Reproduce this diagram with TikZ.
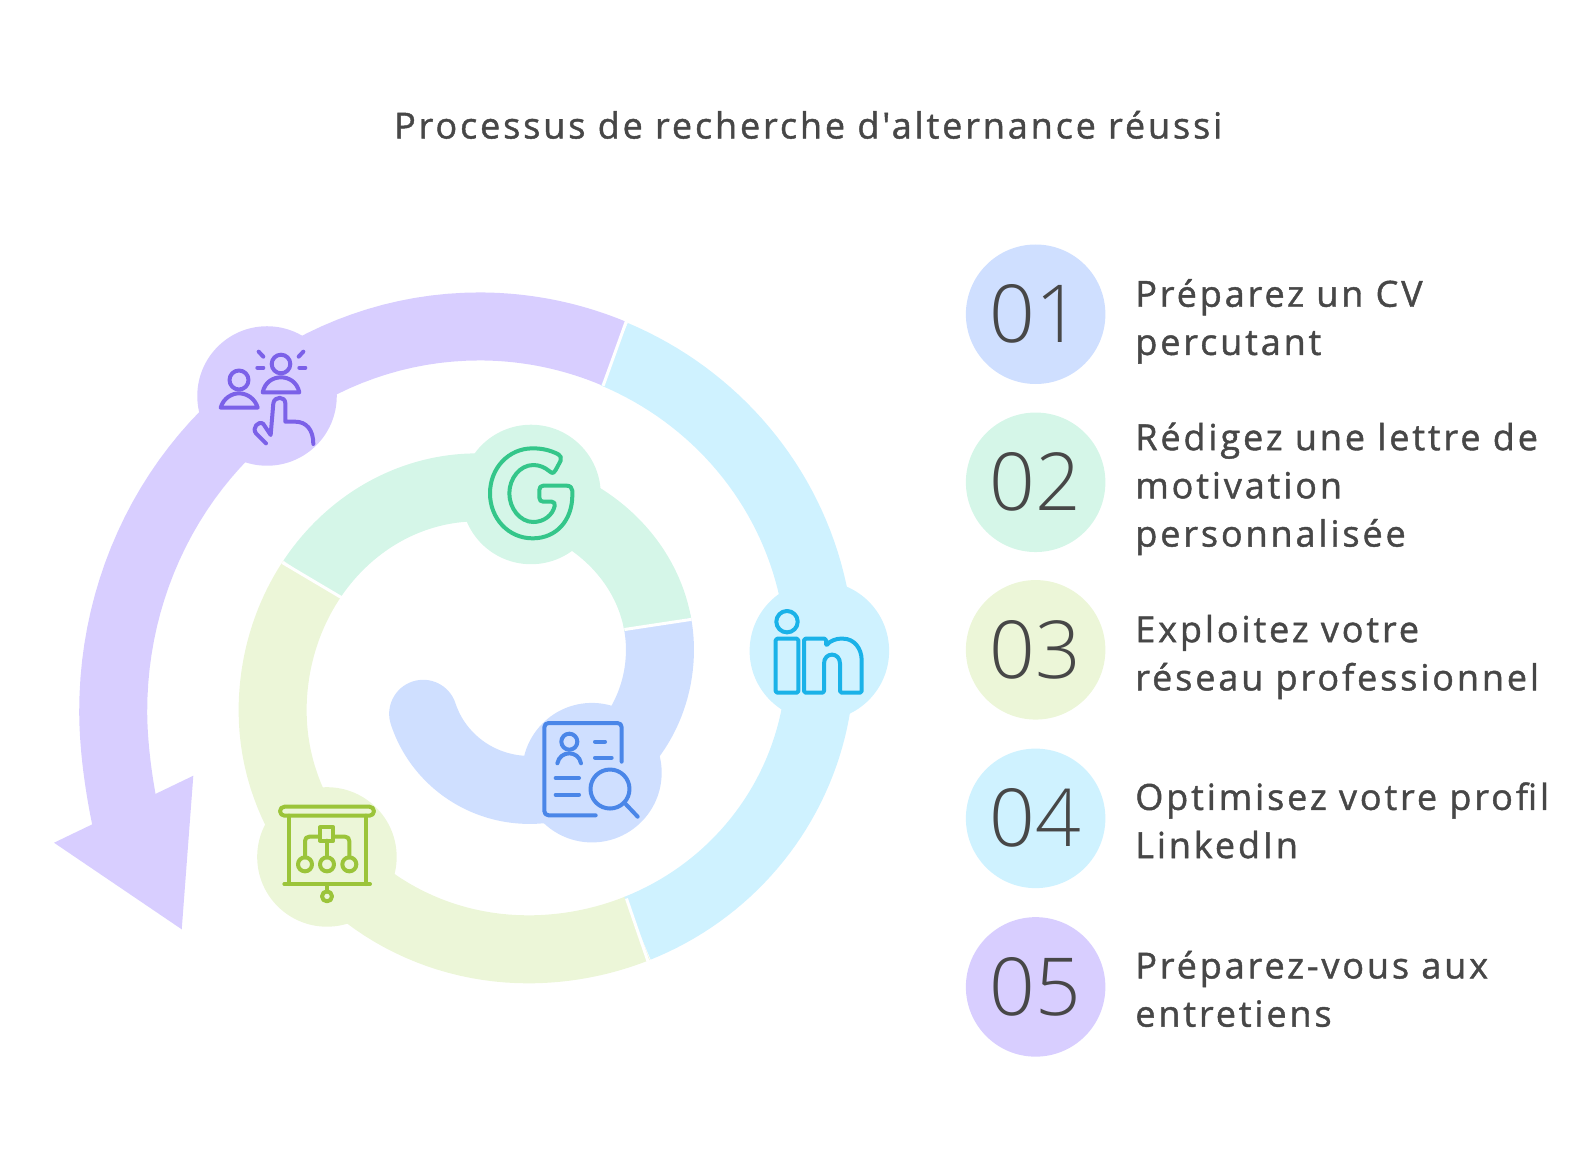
\documentclass[tikz,border=0pt]{standalone}
\usepackage{fontspec}
\newfontfamily\bodyfont[LetterSpace=8,FakeBold=1.2]{Open Sans}
\newfontfamily\numfont{Open Sans Light}
\definecolor{cvfill}{HTML}{CFDFFF}
\definecolor{gfill}{HTML}{D5F6E8}
\definecolor{limefill}{HTML}{ECF6D8}
\definecolor{lifill}{HTML}{CFF2FF}
\definecolor{pufill}{HTML}{D8CEFF}
\definecolor{cvline}{HTML}{4A86E8}
\definecolor{gline}{HTML}{34C68A}
\definecolor{limeline}{HTML}{9BC43A}
\definecolor{liline}{HTML}{1AB2E8}
\definecolor{puline}{HTML}{7B61E8}
\definecolor{ink}{HTML}{474747}
\tikzset{
  band/.style={line width=68pt,line join=round,samples=40},
  sep/.style={white,line width=3pt},
  disc/.style={circle,minimum size=139.5pt,inner sep=0pt},
  icon/.style={line width=4pt,line cap=round,line join=round,fill=none},
  numlabel/.style={text=ink,font=\numfont\fontsize{80}{80}\selectfont},
  itemlabel/.style={text=ink,anchor=west,align=left,inner sep=0pt,font=\bodyfont\fontsize{36}{48.2}\selectfont},
  zoomed/.style={x=0.3333pt,y=-0.3333pt,shift={(#1)}}
}
\begin{document}
\begin{tikzpicture}[x=1.0153pt,y=-1.0153pt]
\useasboundingbox (0,0) rectangle (1566,1138.6);
% spiral bands
\draw[band,cvfill,line cap=round] plot[domain=197.8:270] ({521.5+110*cos(\x)},{670-108*sin(\x)}) -- plot[domain=270:360] ({521.5+128.5*cos(\x)},{640-138*sin(\x)}) -- plot[domain=0:9] ({470+180*cos(\x)},{640-160*sin(\x)});
\draw[band,gfill] plot[domain=9:90] ({470+180*cos(\x)},{640-160*sin(\x)}) -- plot[domain=90:144.1] ({470+201.5*cos(\x)},{700-220*sin(\x)});
\draw[band,limefill] plot[domain=144.1:180] ({470+201.5*cos(\x)},{700-220*sin(\x)}) -- plot[domain=180:270] ({520+251.5*cos(\x)},{700-235*sin(\x)}) -- plot[domain=270:292] ({520+288*cos(\x)},{650-285*sin(\x)});
\draw[band,lifill] plot[domain=292:360] ({520+288*cos(\x)},{650-285*sin(\x)}) -- plot[domain=0:66.7] ({472+336*cos(\x)},{650-328*sin(\x)});
\draw[band,pufill] plot[domain=66.7:90] ({472+336*cos(\x)},{650-328.5*sin(\x)}) -- plot[domain=90:180] ({472+360.5*cos(\x)},{700-378.5*sin(\x)}) .. controls (111.5,735) and (117,775) .. (125,812);
\fill[pufill] (190.4,764) -- (53.2,830) -- (179,915.3) -- cycle;
\draw[sep] (615,620) -- (681,610);
\draw[sep] (278,554) -- (337,589);
\draw[sep] (617,885) -- (639,949);
\draw[sep] (617,316) -- (594,380);
% discs on the spiral
\node[disc,fill=pufill] (ipu) at (263,390) {};
\node[disc,fill=gfill] (ig) at (523,487) {};
\node[disc,fill=lifill] (ili) at (807,641) {};
\node[disc,fill=cvfill] (icv) at (583,761) {};
\node[disc,fill=limefill] (ilime) at (322,844) {};
% icon: people and hand
\begin{scope}[zoomed={180pt,-300pt}]
\draw[icon,puline] (303,192) circle[radius=9.3pt];
\draw[icon,puline] (248,277) .. controls (255,245) and (280,232) .. (303,232) .. controls (326,232) and (351,245) .. (358,277) -- cycle;
\draw[icon,puline] (177,240) circle[radius=9.5pt];
\draw[icon,puline] (122,323) .. controls (130,295) and (155,280) .. (177,280) .. controls (200,280) and (225,295) .. (233,323) -- cycle;
\draw[icon,puline] (236,155) -- (250,170);
\draw[icon,puline] (370,155) -- (356,170);
\draw[icon,puline] (232,203) -- (250,203);
\draw[icon,puline] (358,203) -- (376,203);
\draw[icon,puline] (258,430) -- (228,400) .. controls (215,385) and (235,360) .. (250,372) -- (272,405) -- (280,310) .. controls (283,288) and (316,288) .. (316,310) -- (316,365) -- (345,365) .. controls (380,365) and (400,390) .. (400,432);
\end{scope}
% icon: G
\begin{scope}[zoomed={440pt,-420pt}]
\draw[icon,gline] (355,103) .. controls (330,90) and (305,85) .. (278,85) .. controls (205,85) and (150,145) .. (150,220) .. controls (150,295) and (205,355) .. (278,355) .. controls (350,355) and (397,300) .. (397,225) -- (397,212) .. controls (397,203) and (390,197) .. (380,197) -- (310,197) .. controls (302,197) and (298,202) .. (298,210) -- (298,233) .. controls (298,241) and (303,245) .. (310,245) -- (335,245) .. controls (342,245) and (346,250) .. (344,258) .. controls (338,285) and (312,306) .. (280,306) .. controls (240,306) and (208,265) .. (208,220) .. controls (208,175) and (240,135) .. (280,135) .. controls (298,135) and (315,142) .. (330,155) .. controls (338,162) and (344,158) .. (347,150) -- (362,122) .. controls (365,113) and (362,107) .. (355,103) -- cycle;
\end{scope}
% icon: in
\begin{scope}[zoomed={730pt,-570pt}]
\draw[icon,liline] (171,155) circle[radius=10.7pt];
\draw[icon,liline,rounded corners=1.5pt] (137,206) rectangle (205,368);
\draw[icon,liline,rounded corners=1.5pt] (222,206) -- (288,206) -- (288,228) .. controls (300,212) and (320,206) .. (335,206) .. controls (372,206) and (395,235) .. (395,275) -- (395,368) -- (330,368) -- (330,285) .. controls (330,245) and (282,245) .. (282,285) -- (282,368) -- (222,368) -- cycle;
\end{scope}
% icon: CV and lens
\begin{scope}[zoomed={510pt,-690pt}]
\draw[icon,cvline] (335,215) -- (335,112) .. controls (335,104) and (330,99) .. (322,99) -- (116,99) .. controls (108,99) and (103,104) .. (103,112) -- (103,363) .. controls (103,371) and (108,376) .. (116,376) -- (257,376);
\draw[icon,cvline] (178,155) circle[radius=8pt];
\draw[icon,cvline] (142,220) .. controls (150,180) and (206,180) .. (213,220);
\draw[icon,cvline] (255,155) -- (285,155);
\draw[icon,cvline] (255,203) -- (305,203);
\draw[icon,cvline] (137,264) -- (207,264);
\draw[icon,cvline] (137,314) -- (207,314);
\draw[icon,cvline] (300,297) circle[radius=19.5pt];
\draw[icon,cvline] (345,340) -- (383,380);
\end{scope}
% icon: presentation board
\begin{scope}[zoomed={250pt,-770pt}]
\draw[icon,limeline,rounded corners=4.5pt] (90,110) rectangle (372,137);
\draw[icon,limeline] (117,137) -- (117,342);
\draw[icon,limeline] (347,137) -- (347,342);
\draw[icon,limeline] (103,342) -- (360,342);
\draw[icon,limeline] (231,342) -- (231,365);
\draw[icon,limeline] (231,379) circle[radius=5pt];
\draw[icon,limeline] (210,172) rectangle (250,212);
\draw[icon,limeline] (210,200) -- (178,200) .. controls (170,200) and (165,205) .. (165,213) -- (165,262);
\draw[icon,limeline] (250,200) -- (285,200) .. controls (293,200) and (298,205) .. (298,213) -- (298,262);
\draw[icon,limeline] (231,212) -- (231,262);
\draw[icon,limeline] (165,283) circle[radius=7pt];
\draw[icon,limeline] (231,283) circle[radius=7pt];
\draw[icon,limeline] (298,283) circle[radius=7pt];
\end{scope}
% title
\node[text=ink,inner sep=0pt,font=\bodyfont\fontsize{36}{40}\selectfont] (title) at (796,123) {Processus de recherche d'alternance réussi};
% numbered list
\node[disc,fill=cvfill,numlabel] (n1) at (1020,309.5) {01};
\node[disc,fill=gfill,numlabel] (n2) at (1020,475) {02};
\node[disc,fill=limefill,numlabel] (n3) at (1020,640) {03};
\node[disc,fill=lifill,numlabel] (n4) at (1020,806) {04};
\node[disc,fill=pufill,numlabel] (n5) at (1020,972) {05};
\node[itemlabel] (t1) at (1118,316.5) {Préparez un CV\\percutant};
\node[itemlabel] (t2) at (1118,481.5) {Rédigez une lettre de\\motivation\\personnalisée};
\node[itemlabel] (t3) at (1118,647) {Exploitez votre\\réseau professionnel};
\node[itemlabel] (t4) at (1118,808) {Optimisez votre profil\\LinkedIn};
\node[itemlabel] (t5) at (1118,974) {Préparez-vous aux\\entretiens};
\end{tikzpicture}
\end{document}
